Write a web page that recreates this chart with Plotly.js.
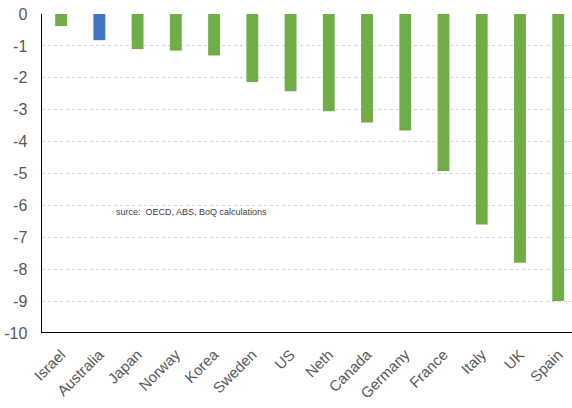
<!DOCTYPE html>
<html><head><meta charset="utf-8">
<script src="https://cdn.plot.ly/plotly-3.0.1.min.js"></script>
<style>body{margin:0;background:#fff}#c{width:572px;height:408px}</style>
</head><body><div id="c"></div>
<script>
const countries = ["Israel","Australia","Japan","Norway","Korea","Sweden","US","Neth","Canada","Germany","France","Italy","UK","Spain"];
const values = [-0.38,-0.82,-1.1,-1.15,-1.3,-2.13,-2.42,-3.05,-3.4,-3.65,-4.92,-6.6,-7.8,-9.0];
const highlight = "Australia";
const yTicks = [0,-1,-2,-3,-4,-5,-6,-7,-8,-9,-10];
const sourceNote = "surce:  OECD, ABS, BoQ calculations";

const colors = countries.map(c => c === highlight ? "#4472C4" : "#70AD47");
const trace = {type:"bar", x:countries, y:values, marker:{color:colors}, width:0.31, hoverinfo:"x+y"};
const layout = {
  width:572, height:408,
  margin:{l:42, r:0, t:14, b:75},
  paper_bgcolor:"#fff", plot_bgcolor:"#fff",
  showlegend:false,
  font:{family:"Liberation Sans, Arial, sans-serif", color:"#595959"},
  xaxis:{type:"category", range:[-0.5,13.36], tickangle:-45, tickfont:{size:15, color:"#595959"},
    showgrid:false, showline:false, zeroline:false, ticks:"outside", ticklen:6, tickcolor:"rgba(0,0,0,0)"},
  yaxis:{range:[-10,0], tickvals:yTicks, ticktext:yTicks.map(String), tickfont:{size:16, color:"#595959"},
    showgrid:true, gridcolor:"#d4d4d4", griddash:"dot", gridwidth:1,
    zeroline:false, showline:true, linecolor:"#000", linewidth:1.5, ticks:"outside", ticklen:10, tickcolor:"rgba(0,0,0,0)"},
  shapes:[{type:"line", xref:"paper", yref:"y", x0:0, x1:1, y0:-10, y1:-10, line:{color:"#000", width:2}}],
  annotations:[{text:sourceNote, xref:"paper", yref:"y", x:0.135, y:-6.2, xanchor:"left", yanchor:"middle",
    showarrow:false, font:{size:9, color:"#404040"}}]
};
Plotly.newPlot("c",[trace],layout,{displayModeBar:false, staticPlot:true});
</script></body></html>
